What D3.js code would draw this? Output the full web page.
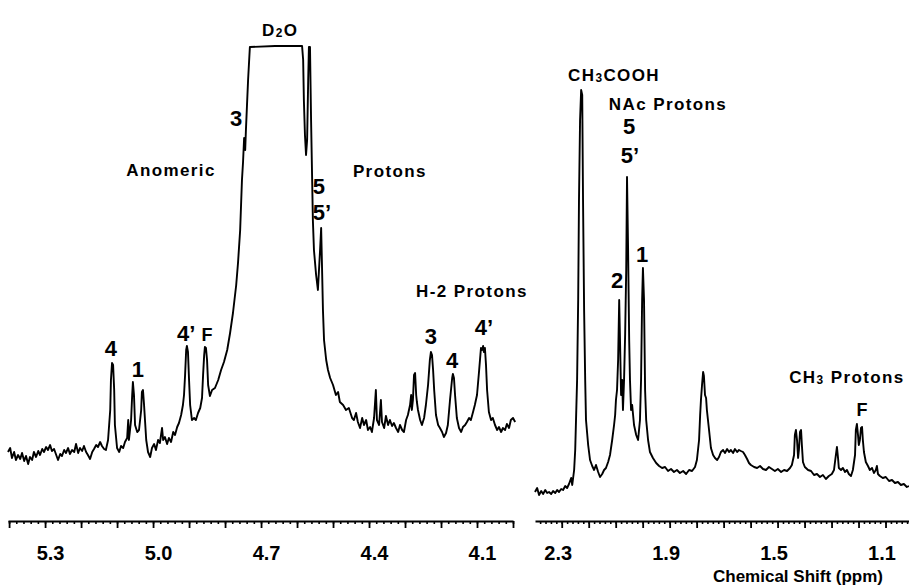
<!DOCTYPE html>
<html lang="en">
<head>
<meta charset="UTF-8" />
<title>1H NMR spectrum</title>
<script src="https://d3js.org/d3.v7.min.js"></script>
<style>
  body { margin: 0; background: #fff; }
  svg { display: block; }
  text { font-family: "Liberation Sans", Arial, Helvetica, sans-serif; font-weight: bold; fill: #000; }
</style>
</head>
<body>
<script>
const w = 909;
const h = 585;
const axisY = 521;

// anomeric / D2O / H-2 region: [ppm, intensity]
const leftSpectrum = [
  [5.403, 9.6], [5.397, 10.4], [5.392, 8.4], [5.386, 9.6], [5.381, 8.0], [5.375, 9.0], [5.369, 8.2],
  [5.364, 9.4], [5.358, 7.8], [5.353, 8.8], [5.347, 7.2], [5.342, 8.6], [5.336, 8.0], [5.331, 9.6],
  [5.325, 8.6], [5.319, 9.8], [5.314, 9.0], [5.308, 10.2], [5.303, 9.6], [5.297, 10.6], [5.292, 10.0],
  [5.286, 11.0], [5.281, 9.8], [5.275, 10.2], [5.269, 9.0], [5.264, 8.0], [5.258, 9.2], [5.253, 8.8],
  [5.247, 10.0], [5.242, 9.4], [5.236, 10.4], [5.231, 9.2], [5.225, 10.0], [5.219, 9.6], [5.214, 11.2],
  [5.208, 9.4], [5.203, 10.4], [5.197, 9.8], [5.192, 10.8], [5.186, 9.6], [5.181, 9.0], [5.175, 8.2],
  [5.169, 9.6], [5.164, 10.2], [5.158, 11.0], [5.153, 10.6], [5.147, 11.6], [5.142, 10.8], [5.136, 10.2],
  [5.131, 10.0], [5.125, 12.0], [5.119, 18.0], [5.117, 24.0], [5.114, 27.4], [5.111, 27.0], [5.108, 22.0],
  [5.106, 15.0], [5.100, 10.4], [5.094, 9.6], [5.089, 10.8], [5.083, 10.4], [5.078, 11.6], [5.072, 12.4],
  [5.069, 16.0], [5.067, 12.0], [5.061, 16.0], [5.058, 21.0], [5.056, 23.6], [5.053, 21.0], [5.050, 15.0],
  [5.044, 13.6], [5.039, 14.0], [5.033, 18.0], [5.031, 21.6], [5.028, 22.0], [5.025, 19.0], [5.019, 12.0],
  [5.014, 9.6], [5.008, 8.6], [5.003, 10.4], [4.997, 11.2], [4.992, 10.0], [4.986, 12.0], [4.981, 11.4],
  [4.975, 14.4], [4.972, 12.0], [4.967, 12.6], [4.961, 11.2], [4.956, 12.4], [4.950, 11.6], [4.944, 13.6],
  [4.939, 13.0], [4.933, 14.6], [4.928, 15.4], [4.922, 17.0], [4.917, 19.0], [4.914, 21.0], [4.911, 25.0],
  [4.908, 30.0], [4.906, 30.8], [4.903, 29.6], [4.900, 24.0], [4.897, 19.0], [4.892, 16.0], [4.886, 16.4],
  [4.881, 16.0], [4.875, 17.4], [4.869, 18.4], [4.864, 20.4], [4.861, 25.0], [4.858, 29.0], [4.856, 30.6],
  [4.853, 30.4], [4.850, 28.0], [4.847, 23.0], [4.842, 20.8], [4.836, 22.0], [4.828, 22.4], [4.819, 24.0],
  [4.811, 26.0], [4.803, 27.6], [4.794, 30.0], [4.786, 33.4], [4.778, 37.4], [4.769, 43.0], [4.764, 47.4],
  [4.758, 54.0], [4.753, 64.0], [4.750, 67.6], [4.747, 72.4], [4.744, 70.0], [4.742, 74.0], [4.739, 79.0],
  [4.736, 84.0], [4.733, 88.0], [4.731, 90.6], [4.661, 90.8], [4.586, 90.8], [4.583, 88.0], [4.581, 80.0],
  [4.578, 73.0], [4.575, 69.0], [4.572, 72.0], [4.569, 84.0], [4.567, 90.6], [4.564, 90.6], [4.561, 76.0],
  [4.558, 64.0], [4.556, 56.0], [4.553, 50.0], [4.547, 45.0], [4.542, 42.0], [4.536, 50.0], [4.533, 54.4],
  [4.531, 48.0], [4.528, 38.0], [4.525, 32.0], [4.519, 28.0], [4.514, 26.0], [4.508, 24.4], [4.500, 23.0],
  [4.492, 21.0], [4.486, 21.6], [4.481, 19.6], [4.472, 19.0], [4.464, 18.0], [4.456, 18.4], [4.447, 16.4],
  [4.442, 16.0], [4.436, 17.4], [4.431, 15.6], [4.425, 14.4], [4.419, 16.4], [4.414, 15.0], [4.408, 16.0],
  [4.403, 14.0], [4.397, 14.6], [4.392, 13.6], [4.386, 16.4], [4.381, 22.0], [4.378, 16.0], [4.372, 15.0],
  [4.367, 20.0], [4.364, 15.6], [4.358, 14.4], [4.353, 16.8], [4.347, 15.0], [4.342, 16.0], [4.336, 14.8],
  [4.331, 15.4], [4.325, 14.4], [4.319, 13.6], [4.314, 15.0], [4.308, 14.0], [4.303, 13.6], [4.297, 16.0],
  [4.292, 17.0], [4.286, 19.0], [4.283, 21.0], [4.281, 18.0], [4.278, 20.0], [4.275, 25.0], [4.272, 25.4],
  [4.269, 21.0], [4.267, 19.6], [4.264, 18.0], [4.258, 16.0], [4.253, 15.0], [4.247, 16.4], [4.242, 19.0],
  [4.236, 23.0], [4.231, 28.0], [4.228, 29.6], [4.225, 29.0], [4.222, 26.0], [4.219, 22.0], [4.214, 17.0],
  [4.208, 15.0], [4.203, 14.4], [4.197, 13.6], [4.192, 12.6], [4.186, 13.4], [4.181, 15.0], [4.175, 20.0],
  [4.169, 24.4], [4.167, 25.2], [4.164, 24.4], [4.161, 21.0], [4.156, 16.4], [4.150, 14.4], [4.144, 13.6],
  [4.139, 14.6], [4.133, 15.0], [4.128, 15.6], [4.122, 16.4], [4.117, 16.0], [4.111, 17.6], [4.106, 19.0],
  [4.100, 21.0], [4.094, 26.0], [4.089, 30.4], [4.086, 30.0], [4.083, 30.8], [4.081, 29.6], [4.078, 30.4],
  [4.075, 27.0], [4.072, 22.0], [4.067, 17.6], [4.061, 16.0], [4.056, 16.4], [4.050, 15.0], [4.044, 14.0],
  [4.039, 14.6], [4.033, 13.6], [4.028, 14.4], [4.022, 14.0], [4.017, 15.2], [4.011, 14.4], [4.006, 16.0],
  [4.000, 16.4], [3.994, 15.6]
];

// acetyl / methyl region: [ppm, intensity]
const rightSpectrum = [
  [2.399, 1.6], [2.391, 2.4], [2.384, 1.0], [2.376, 1.8], [2.369, 1.2], [2.361, 2.0], [2.354, 1.4],
  [2.347, 1.6], [2.339, 1.2], [2.332, 1.8], [2.324, 1.4], [2.317, 2.0], [2.310, 1.6], [2.302, 2.2],
  [2.295, 2.0], [2.287, 2.8], [2.280, 2.4], [2.273, 3.2], [2.265, 4.4], [2.261, 3.0], [2.254, 6.0],
  [2.250, 10.0], [2.247, 16.0], [2.243, 24.0], [2.239, 40.0], [2.236, 60.0], [2.232, 76.0], [2.228, 82.0],
  [2.224, 81.0], [2.221, 60.0], [2.217, 38.0], [2.213, 24.0], [2.210, 16.0], [2.202, 11.0], [2.195, 8.0],
  [2.187, 6.8], [2.180, 6.0], [2.173, 7.0], [2.165, 5.6], [2.158, 4.6], [2.150, 5.2], [2.143, 6.0],
  [2.136, 6.4], [2.128, 7.6], [2.121, 9.0], [2.113, 12.0], [2.106, 15.0], [2.102, 17.0], [2.099, 20.0],
  [2.095, 22.0], [2.091, 28.0], [2.087, 40.0], [2.084, 32.0], [2.080, 21.0], [2.076, 24.0], [2.073, 18.0],
  [2.069, 24.0], [2.065, 33.0], [2.061, 46.0], [2.058, 64.6], [2.054, 50.0], [2.050, 32.0], [2.047, 24.0],
  [2.043, 18.0], [2.039, 19.0], [2.032, 15.0], [2.024, 13.0], [2.017, 12.0], [2.010, 16.0], [2.006, 24.0],
  [2.002, 40.0], [1.999, 46.4], [1.995, 40.0], [1.991, 22.0], [1.987, 16.0], [1.980, 12.0], [1.973, 9.6],
  [1.962, 8.4], [1.950, 7.4], [1.939, 6.8], [1.928, 6.4], [1.917, 6.6], [1.906, 5.8], [1.895, 6.2],
  [1.884, 5.6], [1.873, 6.0], [1.862, 5.4], [1.850, 5.8], [1.839, 5.2], [1.828, 6.0], [1.817, 5.8],
  [1.806, 6.6], [1.799, 8.0], [1.791, 12.0], [1.787, 17.0], [1.784, 20.0], [1.780, 23.0], [1.776, 25.6],
  [1.773, 24.8], [1.769, 21.0], [1.765, 20.4], [1.762, 18.0], [1.754, 14.0], [1.747, 10.4], [1.739, 9.0],
  [1.732, 8.4], [1.724, 8.0], [1.717, 8.6], [1.710, 9.6], [1.702, 10.0], [1.695, 9.4], [1.687, 10.2],
  [1.680, 9.6], [1.673, 10.0], [1.665, 9.4], [1.658, 10.2], [1.650, 9.6], [1.643, 10.0], [1.636, 9.8],
  [1.628, 9.6], [1.621, 9.0], [1.613, 8.2], [1.606, 7.4], [1.599, 7.0], [1.587, 6.6], [1.576, 6.4],
  [1.565, 6.8], [1.554, 6.2], [1.543, 6.0], [1.532, 6.6], [1.521, 6.2], [1.510, 5.8], [1.499, 6.2],
  [1.487, 5.6], [1.476, 6.0], [1.465, 5.8], [1.454, 6.4], [1.447, 7.0], [1.439, 9.0], [1.436, 13.0],
  [1.432, 14.0], [1.428, 12.0], [1.424, 8.4], [1.421, 10.0], [1.417, 13.6], [1.413, 14.0], [1.410, 11.0],
  [1.406, 7.6], [1.399, 6.6], [1.387, 6.0], [1.376, 5.8], [1.365, 5.0], [1.354, 5.2], [1.343, 4.6],
  [1.332, 5.0], [1.321, 4.2], [1.310, 4.8], [1.299, 5.2], [1.291, 6.0], [1.284, 9.0], [1.280, 10.6],
  [1.276, 8.4], [1.273, 6.4], [1.265, 6.0], [1.258, 6.4], [1.250, 5.6], [1.243, 6.0], [1.236, 5.2],
  [1.228, 4.8], [1.221, 6.0], [1.213, 9.0], [1.210, 14.0], [1.206, 15.2], [1.202, 13.0], [1.199, 11.0],
  [1.195, 12.0], [1.191, 14.4], [1.187, 14.6], [1.184, 12.0], [1.180, 9.6], [1.173, 7.6], [1.165, 6.8],
  [1.158, 6.0], [1.150, 6.4], [1.143, 5.4], [1.136, 6.0], [1.132, 6.8], [1.128, 5.2], [1.121, 4.8],
  [1.110, 4.4], [1.099, 4.6], [1.087, 3.8], [1.076, 4.0], [1.065, 3.4], [1.054, 3.6], [1.043, 3.0],
  [1.032, 3.2], [1.021, 2.6], [1.013, 2.8]
];

const leftTickLabels = [5.3, 5.0, 4.7, 4.4, 4.1];
const rightTickLabels = [2.3, 1.9, 1.5, 1.1];

// [text, ppm, intensity] ; "_" marks a subscript digit
const leftGroupLabels = [
  ["D_2O", 4.647, 94.0],
  ["Anomeric", 4.95, 66.0],
  ["Protons", 4.342, 65.8],
  ["H-2 Protons", 4.114, 41.8]
];
const rightGroupLabels = [
  ["CH_3COOH", 2.106, 85.0],
  ["NAc Protons", 1.906, 79.2],
  ["CH_3 Protons", 1.243, 24.6]
];
const leftPeakLabels = [
  ["3", 4.769, 76.4], ["5", 4.539, 62.8], ["5’", 4.531, 57.6],
  ["4", 5.117, 30.4], ["1", 5.042, 26.2], ["4’", 4.908, 33.4],
  ["3", 4.228, 32.8], ["4", 4.169, 28.0], ["4’", 4.081, 34.6]
];
const rightPeakLabels = [
  ["5", 2.05, 74.8], ["5’", 2.047, 69.0], ["2", 2.095, 44.0], ["1", 2.002, 49.2]
];
const leftSmallLabels = [["F", 4.85, 33.0]];
const rightSmallLabels = [["F", 1.187, 18.0]];

const createSvg = () => {
  return d3.select("body").append("svg").attr("width", w).attr("height", h);
};

const yScale = d3.scaleLinear().domain([0, 100]).range([500, 0]);

const createAxis = (svg, x, tickLabels, labelShift) => {
  const [hi, lo] = x.domain();
  const minor = d3.range(Math.ceil(lo * 50), Math.floor(hi * 50) + 1).map((i) => i / 50);
  const major = d3.range(Math.ceil(lo * 10), Math.floor(hi * 10) + 1).map((i) => i / 10);

  const gMinor = svg.append("g")
    .attr("transform", `translate(0, ${axisY})`)
    .call(d3.axisBottom(x).tickValues(minor).tickSize(3).tickSizeOuter(0).tickFormat(""));
  gMinor.select(".domain").attr("stroke-width", 2.2);
  gMinor.selectAll(".tick line").attr("stroke-width", 1.6);

  const gMajor = svg.append("g")
    .attr("transform", `translate(0, ${axisY})`)
    .call(d3.axisBottom(x).tickValues(major).tickSize(7).tickFormat(""));
  gMajor.select(".domain").remove();
  gMajor.selectAll(".tick line").attr("stroke-width", 1.8);

  const gLabels = svg.append("g")
    .attr("transform", `translate(0, ${axisY})`)
    .call(d3.axisBottom(x).tickValues(tickLabels).tickSize(0).tickPadding(25).tickFormat(d3.format(".1f")));
  gLabels.select(".domain").remove();
  gLabels.attr("font-size", 20).attr("font-family", null);
  gLabels.selectAll("text").attr("dx", labelShift);
};

const createSpectrum = (svg, x, data) => {
  const line = d3.line().x((d) => x(d[0])).y((d) => yScale(d[1]));
  svg.append("path")
    .datum(data)
    .attr("d", line)
    .attr("fill", "none")
    .attr("stroke", "#000")
    .attr("stroke-width", 1.9)
    .attr("stroke-linejoin", "round");
};

// text with "_n" subscripts
const addText = (sel, str) => {
  const parts = str.split(/_(\d)/);
  parts.forEach((p, i) => {
    if (!p) return;
    if (i % 2 === 1) {
      sel.append("tspan").attr("font-size", "0.7em").attr("dy", 3).text(p);
    } else {
      sel.append("tspan").attr("dy", i > 0 ? -3 : 0).text(p);
    }
  });
};

const createLabels = (svg, x, labels, size, spacing) => {
  labels.forEach(([t, ppm, v]) => {
    const txt = svg.append("text")
      .attr("x", x(ppm))
      .attr("y", yScale(v))
      .attr("text-anchor", "middle")
      .attr("dominant-baseline", "central")
      .attr("font-size", size)
      .style("letter-spacing", spacing + "px");
    addText(txt, t);
  });
};

const init = () => {
  const svg = createSvg();
  const xLeft = d3.scaleLinear().domain([5.403, 4.0]).range([8, 513]);
  const xRight = d3.scaleLinear().domain([2.399, 1.013]).range([535, 909]);

  createSpectrum(svg, xLeft, leftSpectrum);
  createSpectrum(svg, xRight, rightSpectrum);

  createAxis(svg, xLeft, leftTickLabels, 5);
  createAxis(svg, xRight, rightTickLabels, -4);

  createLabels(svg, xLeft, leftGroupLabels, 17, 1.4);
  createLabels(svg, xRight, rightGroupLabels, 17, 1.4);
  createLabels(svg, xLeft, leftPeakLabels, 22, 0);
  createLabels(svg, xRight, rightPeakLabels, 22, 0);
  createLabels(svg, xLeft, leftSmallLabels, 18, 0);
  createLabels(svg, xRight, rightSmallLabels, 18, 0);

  svg.append("text")
    .attr("x", 798)
    .attr("y", 576)
    .attr("text-anchor", "middle")
    .attr("dominant-baseline", "central")
    .attr("font-size", 17)
    .text("Chemical Shift (ppm)");
};

init();
</script>
</body>
</html>
